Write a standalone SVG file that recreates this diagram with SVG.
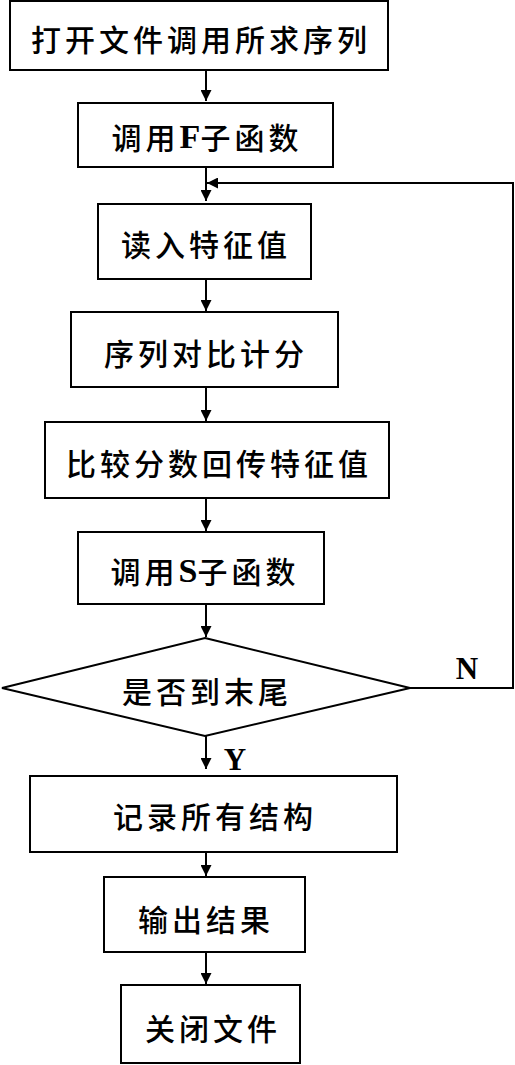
<svg xmlns="http://www.w3.org/2000/svg" width="515" height="1065" viewBox="0 0 515 1065">
<defs>
<marker id="ah" viewBox="0 0 10 10" refX="10" refY="5" markerWidth="11" markerHeight="11" markerUnits="userSpaceOnUse" orient="auto"><path d="M0,0 L10,5 L0,10 Z" fill="#000"/></marker>
<style>
.box{fill:#fff;stroke:#000;stroke-width:2}
.t{font-family:"Noto Sans CJK SC","Noto Sans CJK JP",sans-serif;font-size:30px;letter-spacing:4px;text-anchor:middle;dominant-baseline:central;fill:#000;font-weight:500}
.l{font-family:"Liberation Serif",serif;font-weight:bold;font-size:34px;letter-spacing:0}
.lab{font-family:"Liberation Serif",serif;font-weight:bold;font-size:31px;fill:#000;text-anchor:middle;dominant-baseline:central}
.c{fill:none;stroke:#000;stroke-width:2;marker-end:url(#ah)}
</style>
</defs>
<g id="connectors">
<path class="c" d="M206,70 V101"/>
<path class="c" d="M206,167 V201"/>
<path class="c" d="M206,279 V311"/>
<path class="c" d="M206,387 V421"/>
<path class="c" d="M206,498 V531"/>
<path class="c" d="M206,604 V637"/>
<path class="c" d="M206,736 V769"/>
<path class="c" d="M206,852 V876"/>
<path class="c" d="M206,952 V984"/>
<path class="c" d="M410,688 H513 V183 H207"/>
<text class="lab" x="467" y="668">N</text>
<text class="lab" x="235" y="759">Y</text>
</g>
<g id="n1"><rect class="box" x="10" y="1" width="378" height="69"/><text class="t" x="201" y="38">打开文件调用所求序列</text></g>
<g id="n2"><rect class="box" x="78" y="103" width="255" height="64"/><text class="t" x="207" y="136">调用<tspan class="l">F</tspan>子函数</text></g>
<g id="n3"><rect class="box" x="98" y="204" width="213" height="75"/><text class="t" x="206" y="243">读入特征值</text></g>
<g id="n4"><rect class="box" x="71" y="312" width="267" height="75"/><text class="t" x="206" y="352">序列对比计分</text></g>
<g id="n5"><rect class="box" x="45" y="422" width="344" height="76"/><text class="t" x="219" y="462">比较分数回传特征值</text></g>
<g id="n6"><rect class="box" x="78" y="532" width="246" height="72"/><text class="t" x="205" y="570">调用<tspan class="l">S</tspan>子函数</text></g>
<g id="n7"><polygon class="box" points="205,638 410,688 205,736 2,688"/><text class="t" x="207" y="690">是否到末尾</text></g>
<g id="n8"><rect class="box" x="30" y="776" width="367" height="76"/><text class="t" x="215" y="815">记录所有结构</text></g>
<g id="n9"><rect class="box" x="104" y="877" width="201" height="75"/><text class="t" x="206" y="918">输出结果</text></g>
<g id="n10"><rect class="box" x="121" y="985" width="179" height="78"/><text class="t" x="213" y="1027">关闭文件</text></g>
</svg>
